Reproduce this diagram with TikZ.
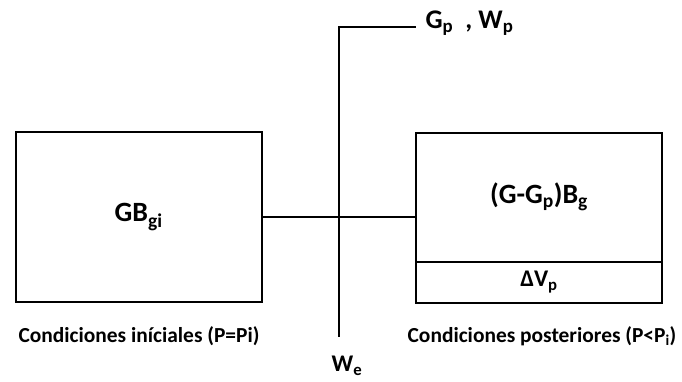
\documentclass[tikz,border=0pt]{standalone}
\usepackage{fontspec}
\setmainfont{Carlito}
\begin{document}
\begin{tikzpicture}[x=1bp, y=-1bp,
    caja/.style ={rectangle, draw, line width=2bp, minimum width=246bp, inner sep=0pt, outer sep=0pt},
    simbolo/.style ={font=\bfseries\fontsize{28}{32}\selectfont},
    delta/.style ={font=\bfseries\fontsize{24}{28}\selectfont},
    etiqueta/.style ={font=\bfseries\fontsize{21.5}{26}\selectfont}]
   \useasboundingbox (0,0) rectangle (682,381);

   \node[caja, simbolo, minimum height=170bp] (inicial)  at (138.7,217)  {GB\textsubscript{gi}};
   \node[caja, simbolo, minimum height=129bp] (posterior)  at (539,197)  {(G-G\textsubscript{p})B\textsubscript{g}};
   \node[caja, delta, minimum height=41bp, anchor=north] (deltavp)  at (posterior.south)  {ΔV\textsubscript{p}};

   \node[simbolo, font=\bfseries\fontsize{27}{31}\selectfont, anchor=west] (gpwp)  at (422,23)  {G\textsubscript{p}\ \ , W\textsubscript{p}};
   \node[delta] (we)  at (347,366)  {W\textsubscript{e}};
   \node[etiqueta] (cinicial)  at (139,336)  {Condiciones iníciales (P=Pi)};
   \node[etiqueta] (cposterior)  at (542,336)  {Condiciones posteriores (P<P\textsubscript{i})};

   \coordinate (codo)  at (338.7,27);
   \coordinate (fin)  at (416,27);
   \coordinate (abajo)  at (338.7,336.7);

   \draw[line width=2bp] (abajo) -- (codo) -- (fin);
   \draw[line width=2bp] (inicial.east) -- (inicial.east -| posterior.west);

 \end{tikzpicture}
\end{document}
